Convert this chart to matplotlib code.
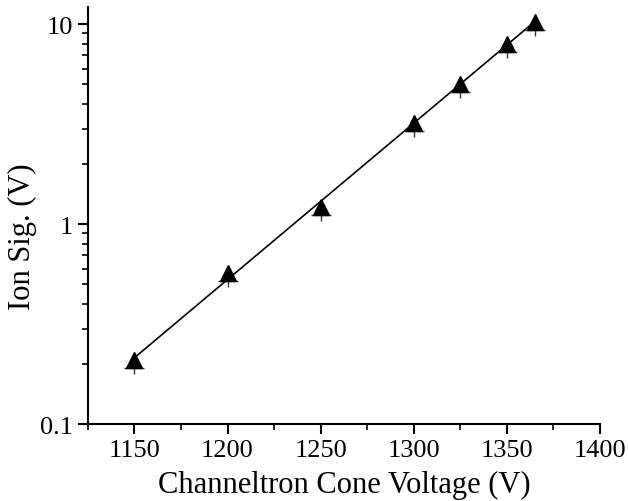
import numpy as np
import matplotlib
matplotlib.use("Agg")
import matplotlib.pyplot as plt
from matplotlib.path import Path
from matplotlib.ticker import FixedLocator, NullFormatter, MultipleLocator

voltage = [1150, 1200, 1250, 1300, 1325, 1350, 1365]
signal = [0.21, 0.57, 1.22, 3.2, 5.0, 8.0, 10.3]

plt.rcParams['font.family'] = ['Liberation Serif', 'DejaVu Serif']

fig = plt.figure(figsize=(6.28, 5.02), dpi=100)
ax = fig.add_axes([0.140, 0.153, 0.815, 0.831])

# exponential fit line
p = np.polyfit(voltage, np.log10(signal), 1)
xf = np.array([voltage[0], voltage[-1]])
ax.plot(xf, 10 ** np.polyval(p, xf), color='k', lw=1.2)

# small cross under each triangle (error bar look)
cross = Path([(-1.25, -1), (1.25, -1), (0, -1), (0, -1.8)],
             [Path.MOVETO, Path.LINETO, Path.MOVETO, Path.LINETO])
ax.plot(voltage, signal, ls='none', marker=cross, ms=11 * 1.8,
        mec='#333333', mew=1.0, mfc='none')
ax.plot(voltage, signal, '^', color='k', ms=11, ls='none')

ax.set_yscale('log')
ax.set_xlim(1125, 1400)
ax.set_ylim(0.1, 12.2)
ax.set_xticks([1150, 1200, 1250, 1300, 1350, 1400])
ax.xaxis.set_minor_locator(MultipleLocator(25))
ax.set_yticks([0.1, 1, 10])
ax.set_yticklabels(['0.1', '1', '10'])
minor = [k * 10.0 ** e for e in (-1, 0) for k in range(2, 10)]
ax.yaxis.set_minor_locator(FixedLocator(minor))
ax.yaxis.set_minor_formatter(NullFormatter())

for s in ('top', 'right'):
    ax.spines[s].set_visible(False)
for s in ('left', 'bottom'):
    ax.spines[s].set_linewidth(1.5)
ax.tick_params(which='major', direction='out', length=7, width=1.5,
               labelsize=19, pad=4)
ax.tick_params(which='minor', direction='out', length=4, width=1.2)

ax.set_xlabel('Channeltron Cone Voltage (V)', fontsize=22, labelpad=6)
ax.set_ylabel('Ion Sig. (V)', fontsize=22)
ax.yaxis.set_label_coords(-0.10, 0.453)

fig.savefig('out.png', dpi=100)
